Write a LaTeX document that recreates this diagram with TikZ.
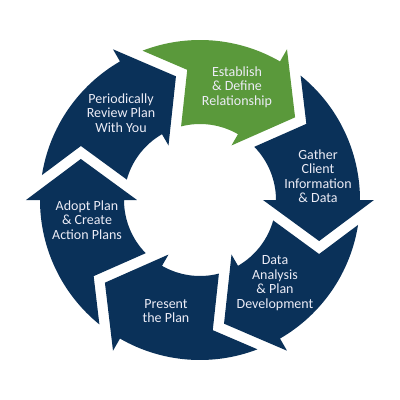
\documentclass[tikz,border=0pt]{standalone}
\usepackage{fontspec}
\setmainfont{Carlito}
\definecolor{navy}{HTML}{0A3159}
\definecolor{leaf}{HTML}{5A993B}
\definecolor{txt}{HTML}{ECECF6}
\newcommand\cycseg[2]{%
  \fill[#2, rotate=#1] (51.04:160pt) arc[start angle=51.04, end angle=0, radius=160pt]
    -- (0:174pt) -- (-19:126pt) -- (0:63pt) -- (0:76pt)
    arc[start angle=0, end angle=44.4, radius=76pt] -- (35.6:130.8pt) -- cycle;}
\begin{document}
\begin{tikzpicture}[x=1pt,y=1pt,
  lbl/.style={text=txt, align=center, inner sep=0pt, font=\fontsize{14}{14.5}\selectfont}]
\useasboundingbox (-200,-200) rectangle (200,200);
\fill[white] (-200,-200) rectangle (200,200);
\cycseg{0}{navy}
\cycseg{60}{leaf}
\cycseg{120}{navy}
\cycseg{180}{navy}
\cycseg{240}{navy}
\cycseg{300}{navy}
\node[lbl] (est) at (37,113) {Establish\\\& Define\\Relationship};
\node[lbl] (per) at (-79,87) {Periodically\\Review Plan\\With You};
\node[lbl] (gat) at (118,24) {Gather\\Client\\Information\\\& Data};
\node[lbl] (dat) at (75,-83) {Data\\Analysis\\\& Plan\\Development};
\node[lbl] (pre) at (-34,-111) {Present\\the Plan};
\node[lbl] (ado) at (-113,-20) {Adopt Plan\\\& Create\\Action Plans};
\end{tikzpicture}
\end{document}
